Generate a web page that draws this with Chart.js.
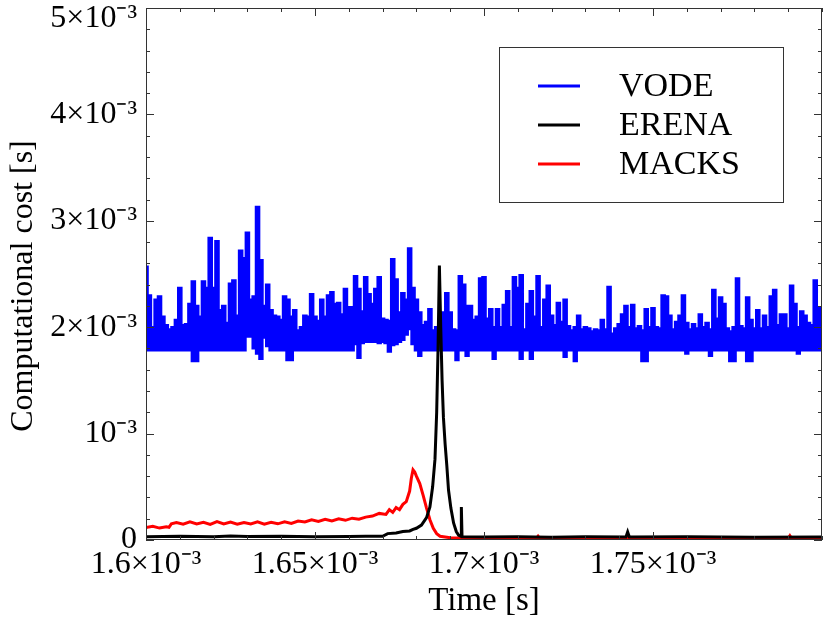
<!DOCTYPE html>
<html>
<head>
<meta charset="utf-8">
<script src="https://cdn.jsdelivr.net/npm/chart.js@4.4.1/dist/chart.umd.min.js"></script>
<style>
  html, body { margin: 0; padding: 0; background: #fff; }
  #wrap { width: 830px; height: 623px; }
</style>
</head>
<body>
<div id="wrap"><canvas id="cost" width="830" height="623"></canvas></div>
<script>
// all values in units of 1e-3 s (the axes print the ×10⁻³)
const seriesNames = ['VODE', 'ERENA', 'MACKS'];

// VODE: sampled every 0.001e-3 s from 1.6e-3 s, upper and lower edge of the noisy band
const vodeStart = 1.6;
const vodeStep = 0.001;
const vodeHigh = [
  2.57, 2.30, 2.00, 2.26, 2.29, 2.10, 2.02, 1.98, 2.00, 2.07,
  2.37, 2.02, 2.03, 2.22, 2.43, 2.20, 2.10, 2.43, 2.37, 2.84,
  2.37, 2.81, 2.16, 2.20, 2.04, 2.41, 2.44, 2.11, 2.72, 2.65,
  2.89, 2.26, 2.29, 3.13, 2.63, 2.20, 2.40, 2.16, 2.11, 2.10,
  2.07, 2.29, 2.26, 2.10, 2.16, 1.97, 2.00, 2.11, 2.10, 2.31,
  2.10, 2.06, 2.26, 2.10, 2.30, 2.33, 2.22, 2.23, 2.12, 2.36,
  2.19, 2.19, 2.48, 2.36, 2.15, 2.47, 2.31, 2.22, 2.36, 2.47,
  2.08, 2.07, 2.06, 2.64, 2.45, 2.14, 2.32, 2.26, 2.74, 2.37,
  2.26, 2.14, 2.02, 2.05, 2.17, 1.97, 2.00, 1.98, 2.14, 2.32,
  2.14, 1.98, 1.97, 2.48, 2.40, 2.20, 2.20, 2.07, 2.10, 2.46,
  2.47, 2.08, 2.17, 2.00, 2.17, 2.00, 2.21, 2.34, 2.00, 2.47,
  2.37, 2.49, 1.98, 2.22, 2.34, 2.10, 2.48, 2.00, 2.26, 2.39,
  2.11, 2.02, 2.23, 2.05, 2.26, 2.01, 1.97, 2.00, 2.11, 1.98,
  2.00, 1.99, 1.96, 1.98, 1.97, 2.07, 1.98, 2.38, 1.94, 1.99,
  2.03, 2.12, 2.20, 2.00, 2.21, 1.99, 2.01, 1.97, 2.17, 2.00,
  2.18, 2.00, 1.99, 2.30, 2.29, 2.11, 1.98, 2.05, 2.11, 2.30,
  2.04, 1.98, 2.03, 1.99, 2.12, 2.00, 2.04, 1.98, 2.35, 2.08,
  2.28, 2.22, 1.99, 1.96, 2.00, 2.46, 2.01, 1.99, 2.28, 2.07,
  1.99, 2.16, 1.99, 2.11, 2.00, 2.29, 2.35, 2.02, 2.12, 2.12,
  1.99, 2.39, 2.22, 2.00, 2.15, 2.11, 2.04, 2.02, 2.44, 2.19,
  2.05
];
const vodeLow = [
  1.78, 1.78, 1.78, 1.78, 1.78, 1.78, 1.78, 1.78, 1.78, 1.78,
  1.78, 1.78, 1.78, 1.78, 1.68, 1.68, 1.78, 1.78, 1.78, 1.78,
  1.78, 1.78, 1.78, 1.78, 1.78, 1.78, 1.78, 1.78, 1.78, 1.78,
  1.91, 1.91, 1.80, 1.75, 1.70, 1.90, 1.82, 1.78, 1.78, 1.78,
  1.78, 1.78, 1.69, 1.69, 1.78, 1.78, 1.78, 1.78, 1.78, 1.78,
  1.78, 1.78, 1.78, 1.78, 1.78, 1.78, 1.78, 1.78, 1.78, 1.78,
  1.78, 1.78, 1.84, 1.71, 1.85, 1.86, 1.86, 1.86, 1.86, 1.85,
  1.86, 1.85, 1.77, 1.83, 1.84, 1.86, 1.88, 1.93, 1.98, 1.84,
  1.78, 1.73, 1.78, 1.78, 1.78, 1.78, 1.78, 1.78, 1.78, 1.78,
  1.78, 1.78, 1.69, 1.78, 1.78, 1.73, 1.78, 1.78, 1.78, 1.78,
  1.78, 1.78, 1.78, 1.70, 1.78, 1.78, 1.78, 1.78, 1.78, 1.78,
  1.78, 1.70, 1.78, 1.78, 1.70, 1.78, 1.78, 1.78, 1.78, 1.78,
  1.78, 1.78, 1.78, 1.78, 1.72, 1.78, 1.78, 1.68, 1.78, 1.78,
  1.78, 1.78, 1.78, 1.78, 1.78, 1.78, 1.78, 1.78, 1.78, 1.78,
  1.78, 1.78, 1.78, 1.78, 1.78, 1.78, 1.78, 1.68, 1.68, 1.78,
  1.78, 1.78, 1.78, 1.78, 1.78, 1.78, 1.78, 1.78, 1.78, 1.78,
  1.75, 1.78, 1.78, 1.78, 1.78, 1.78, 1.78, 1.73, 1.78, 1.78,
  1.78, 1.78, 1.78, 1.68, 1.68, 1.78, 1.78, 1.78, 1.68, 1.68,
  1.78, 1.78, 1.78, 1.78, 1.78, 1.78, 1.78, 1.78, 1.78, 1.78,
  1.78, 1.78, 1.78, 1.75, 1.78, 1.78, 1.78, 1.78, 1.78, 1.78,
  1.78
];

// ERENA
const erenaTime = [
  1.600, 1.610, 1.620, 1.625, 1.630, 1.640, 1.650, 1.660, 1.665, 1.670,
  1.6715, 1.674, 1.676, 1.678, 1.679, 1.680, 1.6815, 1.683, 1.684, 1.6848,
  1.6855, 1.686, 1.6864, 1.6868, 1.6872, 1.6876, 1.688, 1.6885, 1.689, 1.6895,
  1.6902, 1.691, 1.6918, 1.6925, 1.6932, 1.6933, 1.6935, 1.700, 1.710, 1.720,
  1.730, 1.742, 1.7425, 1.743, 1.760, 1.780, 1.800
];
const erenaCost = [
  0.030, 0.035, 0.030, 0.038, 0.032, 0.035, 0.030, 0.033, 0.035, 0.035,
  0.060, 0.065, 0.080, 0.085, 0.100, 0.110, 0.140, 0.210, 0.310, 0.500,
  0.760, 1.200, 1.800, 2.580, 2.000, 1.500, 1.150, 0.900, 0.700, 0.470,
  0.300, 0.160, 0.080, 0.045, 0.035, 0.310, 0.030, 0.028, 0.030, 0.025,
  0.030, 0.028, 0.075, 0.028, 0.030, 0.025, 0.028
];

// MACKS
const macksTime = [
  1.600, 1.602, 1.604, 1.606, 1.6068, 1.6075, 1.609, 1.611, 1.613, 1.615,
  1.617, 1.619, 1.621, 1.623, 1.625, 1.627, 1.629, 1.631, 1.633, 1.635,
  1.637, 1.639, 1.641, 1.643, 1.645, 1.647, 1.649, 1.651, 1.653, 1.655,
  1.657, 1.659, 1.661, 1.663, 1.665, 1.667, 1.669, 1.671, 1.672, 1.673,
  1.674, 1.675, 1.676, 1.677, 1.678, 1.6785, 1.679, 1.6795, 1.680, 1.681,
  1.682, 1.683, 1.684, 1.685, 1.686, 1.687, 1.690, 1.700, 1.7155, 1.716,
  1.7165, 1.790, 1.7905, 1.791, 1.800
];
const macksCost = [
  0.118, 0.128, 0.112, 0.125, 0.120, 0.152, 0.165, 0.148, 0.170, 0.150,
  0.166, 0.146, 0.172, 0.150, 0.168, 0.148, 0.165, 0.150, 0.170, 0.148,
  0.166, 0.152, 0.170, 0.155, 0.178, 0.170, 0.190, 0.175, 0.195, 0.180,
  0.200, 0.185, 0.205, 0.195, 0.215, 0.225, 0.250, 0.240, 0.285, 0.260,
  0.305, 0.285, 0.335, 0.360, 0.460, 0.580, 0.660, 0.640, 0.600, 0.530,
  0.420, 0.300, 0.190, 0.110, 0.060, 0.035, 0.022, 0.015, 0.015, 0.035,
  0.015, 0.015, 0.040, 0.015, 0.015
];

const xTickLabels = ['1.6×10⁻³', '1.65×10⁻³', '1.7×10⁻³', '1.75×10⁻³'];
// the top label sits a little below its tick so it stays on the page
const yTickLabels = ['0', '10⁻³', '2×10⁻³', '3×10⁻³', '4×10⁻³', ['', '5×10⁻³']];

const colors = { VODE: '#0000ff', ERENA: '#000000', MACKS: '#ff0000' };
const serif = "'Liberation Serif', 'Times New Roman', serif";

function pairs(xs, ys) {
  return ys.map((y, i) => ({ x: xs[i], y: y }));
}
function grid(vals) {
  return vals.map((y, i) => ({ x: vodeStart + i * vodeStep, y: y }));
}

// ticks point inwards on all four sides, plus the frame
const framePlugin = {
  id: 'frame',
  afterDatasetsDraw(chart) {
    const { ctx, chartArea: a } = chart;
    ctx.save();
    ctx.strokeStyle = '#333';
    ctx.lineWidth = 1;
    const xs = chart.scales.x, ys = chart.scales.y;
    xs.ticks.forEach(t => {
      const px = Math.round(xs.getPixelForValue(t.value)) + 0.5;
      const len = t.label ? 8 : 4;
      ctx.beginPath();
      ctx.moveTo(px, a.bottom); ctx.lineTo(px, a.bottom - len);
      ctx.moveTo(px, a.top); ctx.lineTo(px, a.top + len);
      ctx.stroke();
    });
    ys.ticks.forEach(t => {
      const py = Math.round(ys.getPixelForValue(t.value)) + 0.5;
      const len = t.label ? 8 : 4;
      ctx.beginPath();
      ctx.moveTo(a.left, py); ctx.lineTo(a.left + len, py);
      ctx.moveTo(a.right, py); ctx.lineTo(a.right - len, py);
      ctx.stroke();
    });
    ctx.strokeRect(a.left + 0.5, a.top + 0.5, a.right - a.left - 1, a.bottom - a.top - 1);
    ctx.restore();
  }
};

const boxLegend = {
  id: 'boxLegend',
  afterDraw(chart) {
    const ctx = chart.ctx;
    ctx.save();
    ctx.fillStyle = '#fff';
    ctx.fillRect(499, 47, 284, 155);
    ctx.strokeStyle = '#333';
    ctx.lineWidth = 1;
    ctx.strokeRect(499.5, 47.5, 284, 155);
    ctx.font = '34px ' + serif;
    ctx.textBaseline = 'alphabetic';
    seriesNames.forEach((name, i) => {
      const y = 86 + i * 39;
      ctx.strokeStyle = colors[name];
      ctx.lineWidth = 3;
      ctx.beginPath();
      ctx.moveTo(538, y); ctx.lineTo(580, y);
      ctx.stroke();
      ctx.fillStyle = '#000';
      ctx.fillText(name, 619, y + 10);
    });
    ctx.restore();
  }
};

Chart.defaults.font.family = serif;
Chart.defaults.color = '#000';

new Chart(document.getElementById('cost'), {
  type: 'line',
  data: {
    datasets: [
      { label: 'ERENA', data: pairs(erenaTime, erenaCost), borderColor: colors.ERENA,
        borderWidth: 3, pointRadius: 0, fill: false, tension: 0 },
      { label: 'MACKS', data: pairs(macksTime, macksCost), borderColor: colors.MACKS,
        borderWidth: 3, pointRadius: 0, fill: false, tension: 0 },
      { label: 'VODE', data: grid(vodeHigh), borderColor: colors.VODE, backgroundColor: colors.VODE,
        borderWidth: 2.2, pointRadius: 0, stepped: 'middle', fill: '+1' },
      { label: 'VODE low', data: grid(vodeLow), borderColor: colors.VODE,
        borderWidth: 2, pointRadius: 0, stepped: 'middle', fill: false }
    ]
  },
  options: {
    responsive: false,
    animation: false,
    devicePixelRatio: 1,
    layout: { padding: { top: 8, right: 8, left: 0, bottom: 0 } },
    plugins: { legend: { display: false }, tooltip: { enabled: false } },
    scales: {
      x: {
        type: 'linear', min: 1.6, max: 1.8,
        grid: { display: false, drawTicks: false },
        border: { display: false },
        ticks: {
          stepSize: 0.01, autoSkip: false, maxRotation: 0, padding: 5,
          font: { size: 32 },
          callback: v => {
            const k = Math.round(v * 100);
            if (k % 5 !== 0 || k >= 180) return '';
            return xTickLabels[(k - 160) / 5];
          }
        },
        title: { display: true, text: 'Time [s]', font: { size: 33 }, padding: { top: 0, bottom: 2 } },
        afterFit: s => { s.height = 83; s.paddingLeft = 0; s.paddingRight = 0; }
      },
      y: {
        type: 'linear', min: 0, max: 5,
        grid: { display: false, drawTicks: false },
        border: { display: false },
        ticks: {
          stepSize: 0.2, autoSkip: false, padding: 9,
          font: { size: 32, lineHeight: 0.65 },
          callback: v => {
            const k = Math.round(v * 10);
            if (k % 10 !== 0) return '';
            return yTickLabels[k / 10];
          }
        },
        title: { display: true, text: 'Computational cost [s]   ', font: { size: 32 }, padding: { top: 4, bottom: 0 } },
        afterFit: s => { s.width = 146; s.paddingTop = 0; s.paddingBottom = 0; }
      }
    }
  },
  plugins: [framePlugin, boxLegend]
});
</script>
</body>
</html>
